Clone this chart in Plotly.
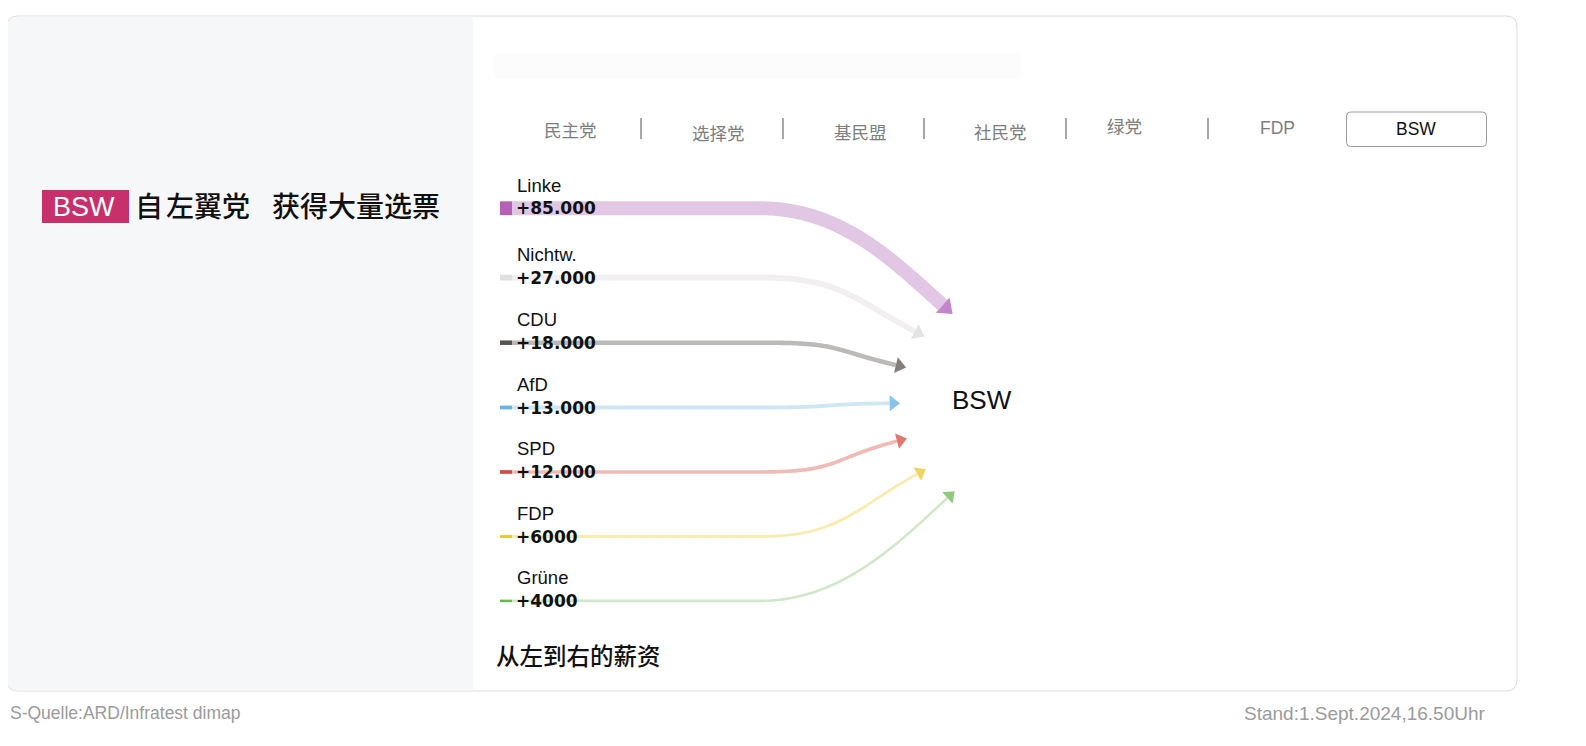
import numpy as np
import plotly.graph_objects as go

# ---------------- data ----------------
parties = ["Linke", "Nichtw.", "CDU", "AfD", "SPD", "FDP", "Grüne"]
gains = [85000, 27000, 18000, 13000, 12000, 6000, 4000]
gain_labels = ["+85.000", "+27.000", "+18.000", "+13.000", "+12.000", "+6000", "+4000"]
target = "BSW"
tabs = ["民主党", "选择党", "基民盟", "社民党", "绿党", "FDP", "BSW"]
title_badge = "BSW"
title_parts = ["自", "左翼党", "获得大量选票"]
subtitle = "从左到右的薪资"
source_text = "S-Quelle:ARD/Infratest dimap"
stand_text = "Stand:1.Sept.2024,16.50Uhr"

# ---------------- styles ----------------
key_colors = ["#b462b8", "#e0e0e0", "#57524f", "#6ab3e3", "#d14a40", "#e5c735", "#6bb84f"]
band_colors = ["#e2c7e5", "#f1efef", "#bcbab8", "#cfe6f5", "#f2bab5", "#faebb0", "#d0e8c6"]
arrow_colors = ["#ab52b4", "#d8d8d8", "#4f4743", "#55aae4", "#d23e34", "#e8c422", "#62b444"]

LATIN = "Liberation Sans, Arial, sans-serif"
CJK = "Noto Sans CJK SC, sans-serif"

W, H = 1570, 730
OFF = 8  # body margin of the html page

fig = go.Figure()


def rrect(x0, y0, x1, y1, r, left=True, right=True):
    rl = r if left else 0
    rr = r if right else 0
    return (f"M{x0+rl},{y0} L{x1-rr},{y0} Q{x1},{y0} {x1},{y0+rr} "
            f"L{x1},{y1-rr} Q{x1},{y1} {x1-rr},{y1} L{x0+rl},{y1} "
            f"Q{x0},{y1} {x0},{y1-rl} L{x0},{y0+rl} Q{x0},{y0} {x0+rl},{y0} Z")


shapes = []
# card
shapes.append(dict(type="path", path=rrect(7, 16, 1517, 691, 11), xref="x", yref="y",
                   fillcolor="white", line=dict(color="#dcdcdc", width=1), layer="below"))
# left panel
shapes.append(dict(type="path", path=rrect(7.5, 16.5, 473, 690.5, 11, right=False), xref="x", yref="y",
                   fillcolor="#f6f7f9", line=dict(width=0), layer="below"))
# faint top bar
shapes.append(dict(type="path", path=rrect(494, 53, 1021, 79, 4), xref="x", yref="y",
                   fillcolor="#fcfcfc", line=dict(width=0), layer="below"))
# title badge
shapes.append(dict(type="rect", x0=42, x1=129, y0=190, y1=223, xref="x", yref="y",
                   fillcolor="#c7306b", line=dict(width=0), layer="below"))

annotations = []


def ann(text, x, y, size, color="#111", family=LATIN, xanchor="left", yanchor="middle", weight="normal"):
    annotations.append(dict(text=text, x=x, y=y, xref="x", yref="y", showarrow=False,
                            xanchor=xanchor, yanchor=yanchor,
                            font=dict(size=size, color=color, family=family, weight=weight)))


# title
ann(title_badge, 84, 207, 27, color="white", xanchor="center")
for txt, x in zip(title_parts, [133, 164, 270]):
    ann(txt, x, 205, 28, color="#111", family=CJK, weight=500)

# tabs
tab_x = [570, 718, 860, 1000, 1124, 1277, 1416]
tab_y = [129, 132, 131, 131, 125, 128, 129]
divider_x = [641, 783, 924, 1066, 1208]
for k, (t, x, y) in enumerate(zip(tabs, tab_x, tab_y)):
    is_latin = t.isascii()
    is_active = (k == len(tabs) - 1)
    if is_active:
        shapes.append(dict(type="path", path=rrect(1346.5, 112, 1486.5, 146.5, 4), xref="x", yref="y",
                           fillcolor="white", line=dict(color="#9c9c9c", width=1), layer="below"))
    ann(t, x, y, 17.5, color="#111" if is_active else "#7e7e7e",
        family=LATIN if is_latin else CJK, xanchor="center")
for x in divider_x:
    shapes.append(dict(type="line", x0=x, x1=x, y0=118, y1=139, xref="x", yref="y",
                       line=dict(color="#8a8a8a", width=1.5)))

# flows
cx, cy, R = 1000, 402, 100
t = np.linspace(0, 1, 80)
for i, (p, v, lab) in enumerate(zip(parties, gains, gain_labels)):
    w = 2 + 0.14 * v / 1000
    y = 214.5 + 64.4 * i - 0.6 * max(0, w - 3.5)
    phi = np.radians(-0.67 + 20.79 * (3 - i))
    tip = np.array([cx - R * np.cos(phi), cy - R * np.sin(phi)])
    alpha = 0.68 * phi
    d = np.array([np.cos(alpha), np.sin(alpha)])
    s = 13 + 0.055 * v / 1000
    B = tip - 0.75 * s * d
    M = tip - 0.5 * s * d
    P0 = np.array([760.0, y])
    P1 = np.array([840.0, y])
    P2 = B - 70 * d
    P3 = B
    curve = (np.outer((1 - t) ** 3, P0) + np.outer(3 * (1 - t) ** 2 * t, P1)
             + np.outer(3 * (1 - t) * t ** 2, P2) + np.outer(t ** 3, P3))
    xs = [512] + list(curve[:, 0])
    ys = [y] + list(curve[:, 1])
    fig.add_trace(go.Scatter(x=xs, y=ys, mode="lines", hoverinfo="skip",
                             line=dict(color=band_colors[i], width=w, simplify=False)))
    fig.add_trace(go.Scatter(x=[500, 512], y=[y, y], mode="lines", hoverinfo="skip",
                             line=dict(color=key_colors[i], width=w, simplify=False)))
    fig.add_trace(go.Scatter(x=[B[0], M[0]], y=[B[1], M[1]], mode="markers", hoverinfo="skip",
                             marker=dict(symbol="triangle-up", angleref="previous", size=[0, s],
                                         color=arrow_colors[i], line=dict(width=0))))
    ann(p, 515, y - 23, 18.5, color="#111")
    ann(f"<b>{lab}</b>", 514, y, 17, color="#111", family="DejaVu Sans, sans-serif")

# target label
ann(target, 950, 400, 26, color="#111")

# subtitle and footer
ann(subtitle, 494, 655, 23.5, color="#111", family=CJK, weight=500)
ann(source_text, 8, 713, 17.5, color="#9b9b9b")
ann(stand_text, 1488, 713, 19, color="#9b9b9b", xanchor="right")

fig.update_layout(
    width=W, height=H, autosize=False,
    margin=dict(l=0, r=0, t=0, b=0, pad=0),
    paper_bgcolor="white", plot_bgcolor="rgba(0,0,0,0)",
    showlegend=False,
    xaxis=dict(range=[OFF, OFF + W], visible=False, fixedrange=True),
    yaxis=dict(range=[OFF + H, OFF], visible=False, fixedrange=True),
    shapes=shapes, annotations=annotations,
)

fig.write_html("out.html", config={"displayModeBar": False})
